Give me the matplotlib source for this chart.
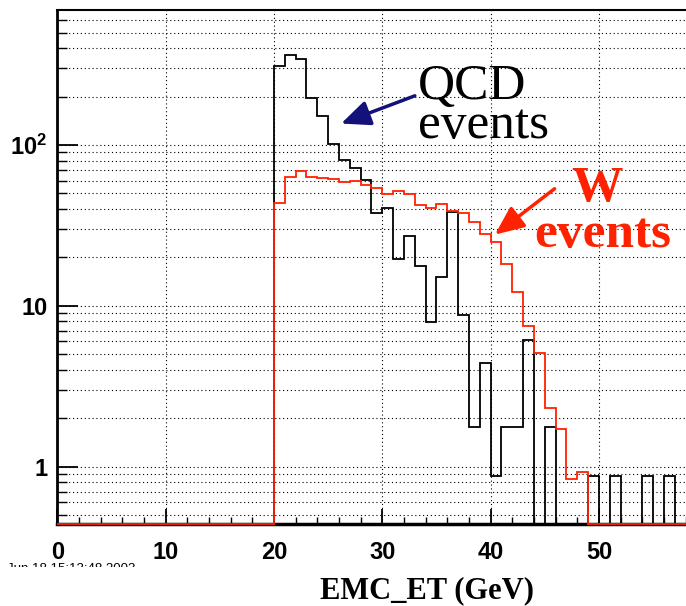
import numpy as np
import matplotlib
matplotlib.use("Agg")
import matplotlib.pyplot as plt
from matplotlib.ticker import FixedLocator, LogLocator, MultipleLocator, NullFormatter
from matplotlib.transforms import Bbox, TransformedBbox

plt.rcParams["font.family"] = "Liberation Sans"
plt.rcParams["font.weight"] = "bold"
plt.rcParams["mathtext.fontset"] = "custom"
plt.rcParams["mathtext.rm"] = "Liberation Sans:bold"
plt.rcParams["mathtext.default"] = "rm"

# 1 GeV bins from 0 to 60
edges = np.arange(0, 61)

# QCD events, bins 20..57 GeV
qcd_start = 20
qcd = [310, 362, 340, 196, 152, 101, 81, 72, 60.7, 37.9,
       40.6, 19.4, 27.3, 17.6, 7.94, 15.1, 38.2, 8.8, 1.76, 4.38,
       0.88, 1.76, 1.76, 6.17, 0, 1.76, 0, 0, 0, 0.88,
       0, 0.88, 0, 0, 0.88, 0, 0.88, 0]

# W events, bins 20..48 GeV
w_start = 20
w = [43.7, 63, 69.3, 63.3, 62.1, 61.2, 58.7, 59.5, 56.1, 53.8,
     49.2, 51.6, 49.2, 42.4, 40.6, 43.1, 38.9, 37.9, 33.4, 27.8,
     25.1, 18.1, 12.2, 7.5, 5.1, 2.3, 1.71, 0.835, 0.93]

xticks = [0, 10, 20, 30, 40, 50]
yticks = [1, 10, 100]
yticklabels = ["1", "10", r"$10^{2}$"]

ymin, ymax = 0.44, 690
red = "#ff2200"


def full(start, vals):
    arr = np.zeros(len(edges) - 1)
    arr[start:start + len(vals)] = vals
    return arr


fig = plt.figure(figsize=(6.86, 6.06), dpi=100)
ax = fig.add_axes([57.3 / 686, 82 / 606, 650 / 686, 514 / 606])
ax.set_yscale("log")
ax.set_xlim(0, 60)
ax.set_ylim(ymin, ymax)

h_qcd = full(qcd_start, qcd)
h_w = full(w_start, w)
ax.stairs(np.where(h_qcd > 0, h_qcd, ymin), edges, baseline=ymin,
          color="black", lw=1.3, zorder=3, clip_on=False)
ax.stairs(np.where(h_w > 0, h_w, ymin), edges, baseline=ymin,
          color=red, lw=1.3, zorder=4, clip_on=False)

# grid
dots = (0, (1, 2.5))
ax.grid(True, which="major", axis="x", color="black", linestyle=dots, lw=0.8)
ax.grid(True, which="both", axis="y", color="black", linestyle=dots, lw=0.8)

ax.yaxis.set_major_locator(FixedLocator(yticks))
ax.yaxis.set_minor_locator(LogLocator(base=10, subs=np.arange(2, 10), numticks=20))
ax.yaxis.set_minor_formatter(NullFormatter())
ax.set_yticklabels(yticklabels)
ax.xaxis.set_major_locator(FixedLocator(xticks))
ax.xaxis.set_minor_locator(MultipleLocator(2))

ax.tick_params(axis="y", which="major", direction="in", length=15, width=1.3,
               labelsize=17, pad=7)
ax.tick_params(axis="y", which="minor", direction="in", length=7, width=1.0)
ax.tick_params(axis="x", which="major", direction="in", length=11, width=1.3,
               labelsize=17, pad=12)
ax.tick_params(axis="x", which="minor", direction="in", length=5, width=1.0)

ax.spines["left"].set_linewidth(2)
ax.spines["bottom"].set_linewidth(2.5)
ax.spines["top"].set_linewidth(1.5)
ax.spines["right"].set_visible(False)

# annotations
ax.text(33.3, 111, "QCD\nevents", family="Liberation Serif", weight="normal",
        fontsize=37, color="black", ha="left", va="baseline",
        multialignment="left", linespacing=0.78)
ax.annotate("", xy=(26.2, 135.8), xytext=(33.0, 202),
            arrowprops=dict(arrowstyle="-|>,head_length=0.8,head_width=0.35",
                            color="#12127a", lw=2.5, mutation_scale=22,
                            shrinkA=0, shrinkB=0))
ax.text(47.4, 45, "W", family="Liberation Serif", weight="bold",
        fontsize=37, color=red)
ax.text(44.0, 23.3, "events", family="Liberation Serif", weight="bold",
        fontsize=37, color=red)
ax.annotate("", xy=(40.4, 27.7), xytext=(45.9, 53.4),
            arrowprops=dict(arrowstyle="-|>,head_length=0.8,head_width=0.35",
                            color=red, lw=2.5, mutation_scale=22,
                            shrinkA=0, shrinkB=0))

fig.text(427 / 686, 8 / 606, "EMC_ET (GeV)", ha="center", va="baseline",
         family="Liberation Serif", weight="bold", fontsize=22)

# date stamp, only its upper part shows
stamp = fig.text(7 / 686, 34 / 606, "Jun 18 15:13:48 2003", fontsize=9.5,
                 weight="normal", va="baseline")
stamp.set_clip_box(TransformedBbox(Bbox([[0, 39 / 606], [0.4, 50 / 606]]),
                                   fig.transFigure))
stamp.set_clip_on(True)

fig.savefig("out.png", dpi=100)
